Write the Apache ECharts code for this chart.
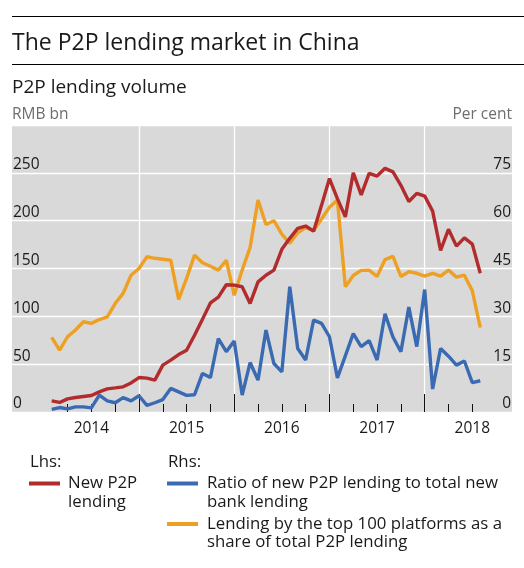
<!DOCTYPE html>
<html>
<head>
<meta charset="utf-8">
<script src="https://cdn.jsdelivr.net/npm/echarts@6/dist/echarts.min.js"></script>
<style>
  html, body { margin: 0; padding: 0; background: #fff; }
  #chart { width: 524px; height: 568px; }
</style>
</head>
<body>
<div id="chart"></div>
<script>
  // axis runs monthly from Mar 2013 to Jun 2018, data from Aug 2013 to Feb 2018
  const axisStart = [2013, 3];
  const axisMonths = 64;
  const dataOffset = 5;

  // New P2P lending, RMB bn (lhs)
  const newLending = [
    11.6, 10, 13.7, 15.2, 16.2,
    17.2, 21, 24.2, 25.2, 26.3, 30.4, 36, 35.4, 33.3, 49, 54.2, 60,
    64.6, 80.3, 97, 114, 120, 133, 132.6, 130.9, 113.5, 136, 143, 148.3,
    170, 181.5, 192, 194.4, 189, 216, 244, 223, 204, 250, 227, 249.5,
    246.6, 254.7, 251, 237, 220, 228.6, 225.7, 210, 169, 191, 173.4, 182,
    175.5, 145
  ];
  // Ratio of new P2P lending to total new bank lending, per cent (rhs)
  const ratioToBank = [
    0.8, 1.4, 1.0, 1.6, 1.6,
    1.3, 5.3, 3.5, 2.9, 4.5, 3.5, 5.1, 2.1, 2.9, 3.9, 7.4, 6.3,
    5.2, 5.4, 12.1, 10.8, 23, 18.9, 22.3, 5.3, 15.5, 10, 25.7, 15.2,
    12.6, 39.3, 19.9, 16.3, 28.8, 27.8, 23.6, 10.7, 17.6, 24.6, 20.5, 22.4,
    16.3, 30.8, 23.5, 18.9, 32.9, 20.5, 38.4, 7.2, 19.9, 17.5, 14.7, 16,
    9.2, 9.8
  ];
  // Lending by the top 100 platforms as a share of total, per cent (rhs)
  const top100Share = [
    23.4, 19.4, 23.6, 25.7, 28.3,
    27.8, 29, 29.8, 34, 37.2, 42.9, 45, 48.7, 48.2, 47.9, 47.6, 35.3,
    41.9, 49.2, 46.8, 45.7, 44.5, 47.6, 36.6, 44.5, 51.6, 66.5, 58.8, 60,
    55.8, 52.9, 56.2, 57.8, 56.9, 60.5, 64.2, 66.5, 39.3, 42.8, 44.4, 44.5,
    42.5, 47.8, 48.8, 42.5, 44, 43.5, 42.6, 43.5, 42.6, 44.5, 42.3, 42.9,
    38, 26.5
  ];

  const lhsTicks = { min: 0, max: 300, interval: 50 };
  const rhsTicks = { min: 0, max: 90, interval: 15 };

  const months = [];
  for (let i = 0; i < axisMonths; i++) {
    const m = axisStart[1] - 1 + i;
    const y = axisStart[0] + Math.floor(m / 12);
    months.push(y + '-' + String((m % 12) + 1).padStart(2, '0'));
  }
  const withMonths = values => values.map((v, i) => [months[i + dataOffset], v]);

  const FONT = '"Open Sans", "Noto Sans", sans-serif';
  const RED = '#b22b2d';
  const BLUE = '#3a6bb2';
  const ORANGE = '#eda023';
  const TEXT = '#1a1a1a';

  // tick / label / gridline selection on the monthly category axis
  const isQuarterTick = i => i >= 7 && i <= 58 && (i - 1) % 3 === 0;
  const isMidYear = i => i >= 16 && i <= 52 && (i - 4) % 12 === 0;
  const isJanuary = i => i >= 10 && i <= 58 && (i - 10) % 12 === 0;

  const text = (x, y, str, size, extra) => ({
    type: 'text',
    x, y,
    style: Object.assign({
      text: str,
      font: size + 'px ' + FONT,
      fill: TEXT,
      textVerticalAlign: 'middle'
    }, extra || {})
  });
  const rule = (y, x1, x2, color, w) => ({
    type: 'line',
    shape: { x1, y1: y, x2, y2: y },
    style: { stroke: color, lineWidth: w }
  });

  const chart = echarts.init(document.getElementById('chart'));

  chart.setOption({
    animation: false,
    textStyle: { fontFamily: FONT },
    grid: {
      left: 12, right: 12, top: 125, bottom: 156,
      show: true, backgroundColor: '#d9d9d9', borderWidth: 0
    },
    xAxis: [
      {
        type: 'category',
        data: months,
        boundaryGap: false,
        axisLine: { show: false },
        axisTick: {
          show: true, inside: true, length: 8,
          interval: isQuarterTick,
          lineStyle: { color: '#111', width: 1 }
        },
        axisLabel: {
          interval: isJanuary,
          formatter: v => v.slice(0, 4),
          color: TEXT, fontSize: 15.5, margin: 9
        },
        splitLine: {
          show: true, interval: isMidYear,
          lineStyle: { color: '#fff', width: 1.3 }
        }
      },
      {
        type: 'category',
        data: months,
        boundaryGap: false,
        position: 'bottom',
        axisLine: { show: false },
        axisTick: {
          show: true, inside: true, length: 18,
          interval: isMidYear,
          lineStyle: { color: '#111', width: 1 }
        },
        axisLabel: { show: false },
        splitLine: { show: false }
      }
    ],
    yAxis: [
      {
        type: 'value',
        position: 'left',
        min: lhsTicks.min, max: lhsTicks.max, interval: lhsTicks.interval,
        axisLine: { show: false },
        axisTick: { show: false },
        axisLabel: {
          inside: true, margin: 1, verticalAlign: 'bottom',
          color: TEXT, fontSize: 15.5,
          formatter: v => (v === lhsTicks.max ? '' : v)
        },
        splitLine: { lineStyle: { color: '#fff', width: 1.3 } }
      },
      {
        type: 'value',
        position: 'right',
        min: rhsTicks.min, max: rhsTicks.max, interval: rhsTicks.interval,
        axisLine: { show: false },
        axisTick: { show: false },
        axisLabel: {
          inside: true, margin: 1, verticalAlign: 'bottom',
          color: TEXT, fontSize: 15.5,
          formatter: v => (v === rhsTicks.max ? '' : v)
        },
        splitLine: { show: false }
      }
    ],
    series: [
      {
        name: 'Lending by the top 100 platforms as a share of total P2P lending',
        type: 'line', yAxisIndex: 1, symbol: 'none',
        lineStyle: { color: ORANGE, width: 3.4 },
        data: withMonths(top100Share)
      },
      {
        name: 'Ratio of new P2P lending to total new bank lending',
        type: 'line', yAxisIndex: 1, symbol: 'none',
        lineStyle: { color: BLUE, width: 3.4 },
        data: withMonths(ratioToBank)
      },
      {
        name: 'New P2P lending',
        type: 'line', yAxisIndex: 0, symbol: 'none',
        lineStyle: { color: RED, width: 3.4 },
        data: withMonths(newLending)
      }
    ],
    graphic: [
      rule(16.5, 12, 524, '#000', 1),
      text(12, 43, 'The P2P lending market in China', 23),
      rule(64.5, 12, 524, '#000', 1),
      text(12, 88, 'P2P lending volume', 19),
      text(12, 115, 'RMB bn', 15.5, { fill: '#6e6e6e' }),
      text(512, 115, 'Per cent', 15.5, { fill: '#6e6e6e', textAlign: 'right' }),

      text(30, 462, 'Lhs:', 16.8),
      rule(483.5, 29, 60, RED, 4),
      text(68, 474, 'New P2P\nlending', 16.8, { textVerticalAlign: 'top', lineHeight: 18.7 }),

      text(168, 462, 'Rhs:', 16.8),
      rule(483.5, 167, 198, BLUE, 4),
      text(207, 474, 'Ratio of new P2P lending to total new\nbank lending', 16.8,
        { textVerticalAlign: 'top', lineHeight: 18.7 }),
      rule(524, 167, 198, ORANGE, 4),
      text(207, 514.5, 'Lending by the top 100 platforms as a\nshare of total P2P lending', 16.8,
        { textVerticalAlign: 'top', lineHeight: 18.7 })
    ]
  });
</script>
</body>
</html>
